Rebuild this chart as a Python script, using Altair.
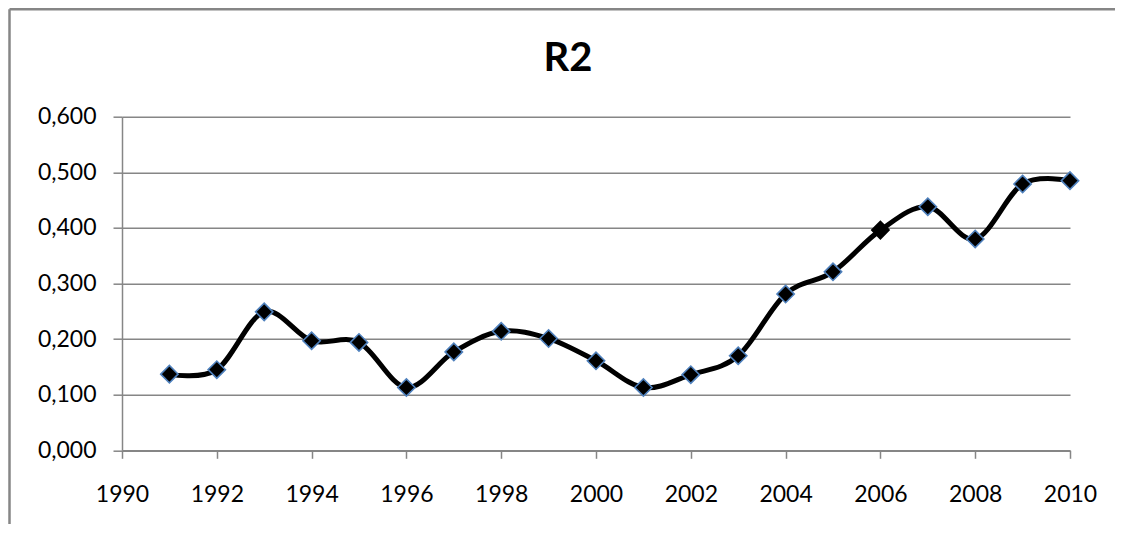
import altair as alt
import pandas as pd

years = list(range(1991, 2011))
r2 = [0.137, 0.145, 0.249, 0.197, 0.194, 0.113, 0.177, 0.214, 0.201, 0.161,
      0.113, 0.136, 0.170, 0.281, 0.321, 0.396, 0.438, 0.380, 0.479, 0.485]
x_ticks = list(range(1990, 2011, 2))
y_ticks = [0.0, 0.1, 0.2, 0.3, 0.4, 0.5, 0.6]
title_text = ["R2"]

df = pd.DataFrame({"year": years, "r2": r2})

W, H = 948, 333.6
GRAY = "#868686"
FONT = "Lato"

x_enc = alt.X("year:Q",
              scale=alt.Scale(domain=[1990, 2010], nice=False, zero=False),
              axis=alt.Axis(values=x_ticks, format="d", title=None, grid=False,
                            tickSize=8, labelPadding=25, labelFlush=False,
                            labelOverlap=False))
y_enc = alt.Y("r2:Q",
              scale=alt.Scale(domain=[0, 0.6], nice=False),
              axis=alt.Axis(values=y_ticks, title=None, grid=True,
                            labelExpr="replace(format(datum.value, '.3f'), '.', ',')",
                            tickSize=9, labelPadding=17, labelFlush=False))

line = alt.Chart(df).mark_line(color="black", strokeWidth=5,
                               interpolate="cardinal").encode(x=x_enc, y=y_enc)

pts = alt.Chart(df).mark_point(shape="diamond", filled=True, fill="black",
                               size=300, strokeWidth=1.6, opacity=1).encode(
    x="year:Q", y="r2:Q",
    stroke=alt.condition("datum.year == 2006", alt.value("black"), alt.value("#4f81bd")),
)

title = alt.Chart(pd.DataFrame({"t": title_text})).mark_text(
    font=FONT, fontSize=40, fontWeight="bold", baseline="alphabetic", color="black"
).encode(text="t:N", x=alt.value(446), y=alt.value(-46))

border_v = alt.Chart(pd.DataFrame({"a": [0]})).mark_rule(
    color=GRAY, strokeWidth=2.5).encode(
    x=alt.value(-112.5), y=alt.value(-107.5), y2=alt.value(H + 74))
border_h = alt.Chart(pd.DataFrame({"a": [0]})).mark_rule(
    color=GRAY, strokeWidth=2.5).encode(
    y=alt.value(-107.5), x=alt.value(-112.5), x2=alt.value(W + 45))

chart = alt.layer(border_v, border_h, line, pts, title).properties(
    width=W, height=H,
    padding={"left": 114, "top": 108.7, "right": 45, "bottom": 74},
    autosize=alt.AutoSizeParams(type="none"),
).configure_view(strokeWidth=0).configure_axis(
    labelFont=FONT, labelFontSize=23, labelColor="black",
    domainColor=GRAY, tickColor=GRAY, gridColor=GRAY,
    domainWidth=1.5, tickWidth=1.5, gridWidth=1.5,
)

chart.save("out.html", embed_options={"renderer": "svg", "actions": False})
